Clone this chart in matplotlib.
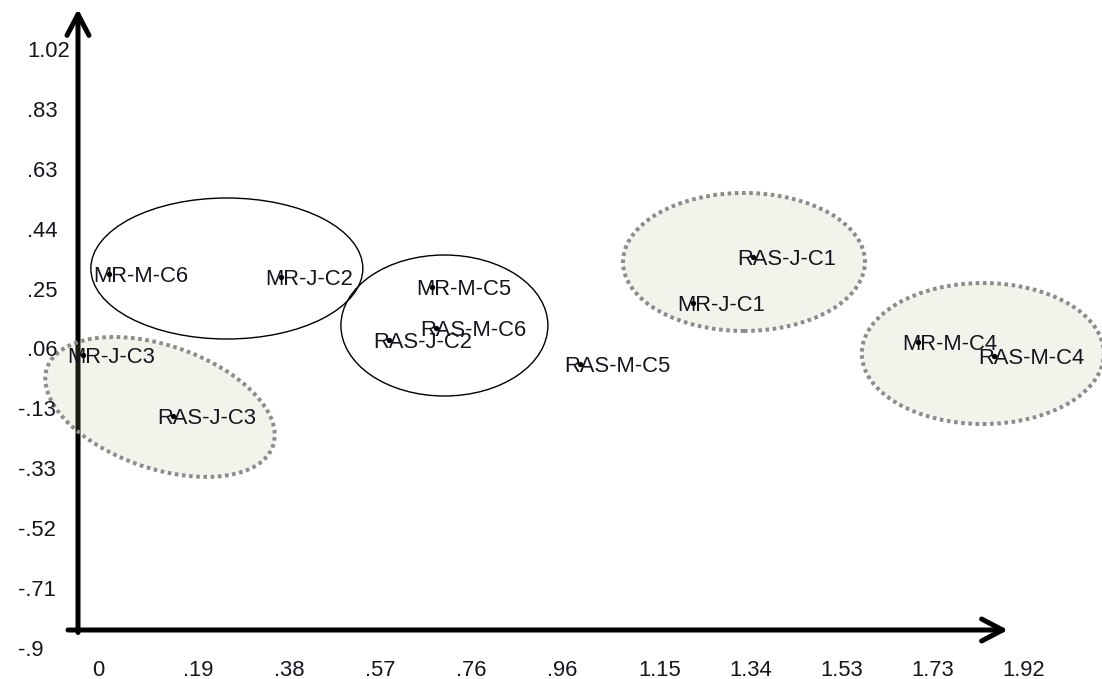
import matplotlib
matplotlib.use('Agg')
import matplotlib.pyplot as plt
from matplotlib.patches import Ellipse, ArrowStyle
from matplotlib.transforms import ScaledTranslation

plt.rcParams['font.family'] = ['Liberation Sans', 'DejaVu Sans']

# points (dimension 1 / dimension 2)
labels = ['MR-M-C6', 'MR-J-C2', 'MR-M-C5', 'RAS-M-C6', 'RAS-J-C2', 'MR-J-C3',
          'RAS-J-C3', 'RAS-M-C5', 'RAS-J-C1', 'MR-J-C1', 'MR-M-C4', 'RAS-M-C4']
x_vals = [0.065, 0.428, 0.747, 0.755, 0.656, 0.011,
          0.200, 1.059, 1.424, 1.297, 1.772, 1.932]
y_vals = [0.243, 0.233, 0.201, 0.069, 0.031, -0.017,
          -0.213, -0.046, 0.297, 0.150, 0.025, -0.020]

x_ticks = [0.0, 0.192, 0.384, 0.576, 0.768, 0.96, 1.152, 1.344, 1.536, 1.728, 1.92]
x_tick_labels = ['0', '.19', '.38', '.57', '.76', '.96', '1.15', '1.34', '1.53', '1.73', '1.92']
y_ticks = [-0.9, -0.708, -0.516, -0.324, -0.132, 0.06, 0.252, 0.444, 0.636, 0.828, 1.02]
y_tick_labels = ['-.9', '-.71', '-.52', '-.33', '-.13', '.06', '.25', '.44', '.63', '.83', '1.02']

# grouping ellipses: centre in data units, size in pixels
groups = [
    dict(c=(0.314, 0.2605), w=272, h=141, angle=0, dotted=False),
    dict(c=(0.773, 0.0775), w=207, h=141, angle=0, dotted=False),
    dict(c=(0.173, -0.184), w=239, h=123, angle=-19, dotted=True),
    dict(c=(1.405, 0.2815), w=242, h=138, angle=0, dotted=True),
    dict(c=(1.909, -0.0124), w=242, h=141, angle=0, dotted=True),
]

W, H = 1102, 679
SX, SY = 474.0, 311.5          # pixels per unit
OX, OY = 78, 630               # pixel position of the origin corner (0, -0.9)

fig = plt.figure(figsize=(W / 72, H / 72), dpi=72)
ax = fig.add_axes([0, 0, 1, 1])
ax.set_xlim(-OX / SX, (W - OX) / SX)
ax.set_ylim(-0.9 - (H - OY) / SY, -0.9 + OY / SY)
ax.axis('off')

txt_col = '#15151f'

# axes with arrow heads
arr = ArrowStyle('->', head_length=21, head_width=11)
ax.annotate('', xy=(1.962, -0.9), xytext=(-10 / SX, -0.9),
            arrowprops=dict(arrowstyle=arr, lw=5, color='black', mutation_scale=1,
                            shrinkA=0, shrinkB=0), zorder=1)
ax.annotate('', xy=(0, -0.9 + 621 / SY), xytext=(0, -0.9 - 2.5 / SY),
            arrowprops=dict(arrowstyle=arr, lw=5, color='black', mutation_scale=1,
                            shrinkA=0, shrinkB=0), zorder=1)

for g in groups:
    tr = fig.dpi_scale_trans + ScaledTranslation(g['c'][0], g['c'][1], ax.transData)
    if g['dotted']:
        e = Ellipse((0, 0), g['w'] / 72, g['h'] / 72, angle=g['angle'], transform=tr,
                    facecolor=(168 / 255, 182 / 255, 128 / 255, 0.15),
                    edgecolor='#8c8c8c', lw=4, linestyle=(0, (0.9, 0.9)), zorder=2)
    else:
        e = Ellipse((0, 0), g['w'] / 72, g['h'] / 72, angle=g['angle'], transform=tr,
                    facecolor='none', edgecolor='black', lw=1.4, zorder=2)
    ax.add_patch(e)

ax.scatter(x_vals, y_vals, s=28, color='black', zorder=4, linewidths=0)
for lab, x, y in zip(labels, x_vals, y_vals):
    ax.annotate(lab, xy=(x, y), xytext=(-16, 0), textcoords='offset pixels',
                ha='left', va='center_baseline', fontsize=22, color=txt_col, zorder=3)

for v, lab in zip(x_ticks, x_tick_labels):
    ax.annotate(lab, xy=(v, 11.5), xycoords=('data', 'figure pixels'),
                xytext=(14, 0), textcoords='offset pixels',
                ha='left', va='center_baseline', fontsize=22, color=txt_col)
for v, lab in zip(y_ticks, y_tick_labels):
    xpix = 18 if lab.startswith('-') else 27
    ax.annotate(lab, xy=(xpix, v), xycoords=('figure pixels', 'data'),
                xytext=(0, -17.5), textcoords='offset pixels',
                ha='left', va='center_baseline', fontsize=22, color=txt_col)

fig.savefig('out.png', dpi=72)
